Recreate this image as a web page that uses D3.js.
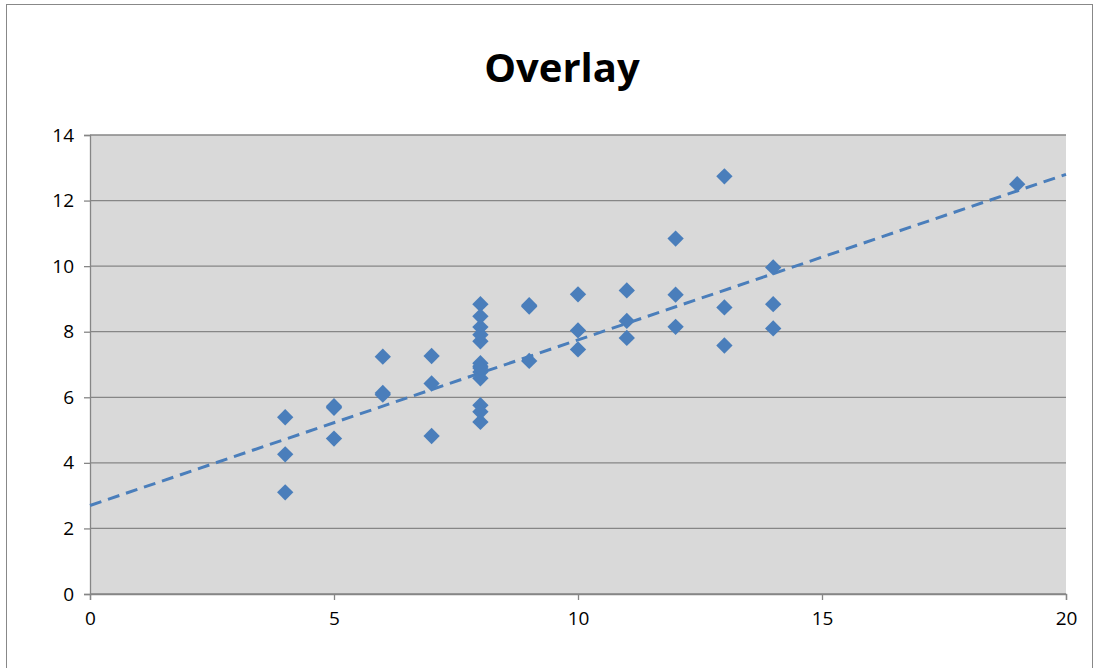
<!DOCTYPE html>
<html><head><meta charset="utf-8">
<script src="https://cdn.jsdelivr.net/npm/d3@7"></script>
<style>body{margin:0;background:#fff}</style></head>
<body><svg id="c" width="1101" height="668"></svg>
<script>
const xValues = [10,8,13,9,11,14,6,4,12,7,5, 10,8,13,9,11,14,6,4,12,7,5, 10,8,13,9,11,14,6,4,12,7,5, 8,8,8,8,8,8,8,19,8,8,8];
const yValues = [8.04,6.95,7.58,8.81,8.33,9.96,7.24,4.26,10.84,4.82,5.68,
 9.14,8.14,8.74,8.77,9.26,8.10,6.13,3.10,9.13,7.26,4.74,
 7.46,6.77,12.74,7.11,7.81,8.84,6.08,5.39,8.15,6.42,5.73,
 6.58,5.76,7.71,8.84,8.47,7.04,5.25,12.50,5.56,7.91,6.89];
const trendEnds = [[0,2.7],[20,12.8]];
const xTicks = [0,5,10,15,20];
const yTicks = [0,2,4,6,8,10,12,14];

const svg = d3.select("#c");
svg.append("rect").attr("x",6.5).attr("y",4.5).attr("width",1086).attr("height",680).attr("fill","#fff").attr("stroke","#888");
const x = d3.scaleLinear().domain([0,20]).range([90,1066]);
const y = d3.scaleLinear().domain([0,14]).range([594,135]);
svg.append("rect").attr("x",90).attr("y",135).attr("width",976).attr("height",459).attr("fill","#d9d9d9");
svg.append("g").selectAll("line").data(yTicks).join("line")
 .attr("x1",90).attr("x2",1066).attr("y1",d=>y(d)).attr("y2",d=>y(d)).attr("stroke","#868686").attr("stroke-width",1.3);
const ya = svg.append("g").attr("transform","translate(90,0)").call(d3.axisLeft(y).tickValues(yTicks).tickSize(6).tickPadding(10));
const xa = svg.append("g").attr("transform","translate(0,594)").call(d3.axisBottom(x).tickValues(xTicks).tickSize(6).tickPadding(12));
[ya,xa].forEach(a=>{a.selectAll("path,line").attr("stroke","#868686").attr("stroke-width",1.3);
 a.selectAll("text").attr("font-family","Open Sans, Arial").attr("font-size",19).attr("fill","#000");});
svg.append("line").attr("x1",x(trendEnds[0][0])).attr("y1",y(trendEnds[0][1])).attr("x2",x(trendEnds[1][0])).attr("y2",y(trendEnds[1][1]))
 .attr("stroke","#4a7ebb").attr("stroke-width",3).attr("stroke-dasharray","12,7");
const sym = d3.symbol().type(d3.symbolDiamond2).size(170);
svg.append("g").selectAll("path").data(xValues.map((v,i)=>[v,yValues[i]])).join("path")
 .attr("d",sym).attr("transform",d=>`translate(${x(d[0])},${y(d[1])})`).attr("fill","#4a7ebb");
svg.append("text").attr("x",562).attr("y",82).attr("text-anchor","middle").attr("font-family","Open Sans, Arial")
 .attr("font-weight","bold").attr("font-size",40).text("Overlay");
</script></body></html>
